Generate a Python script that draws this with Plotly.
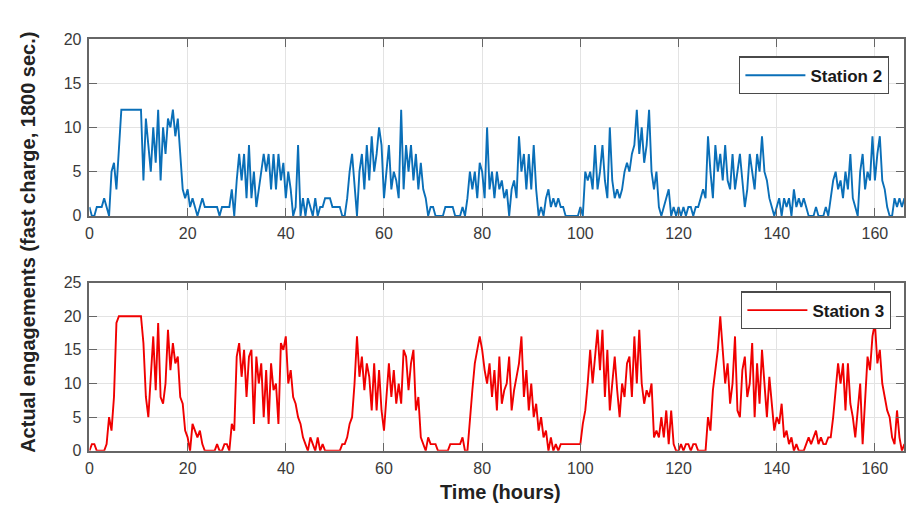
import plotly.graph_objects as go

# ---- data (0.5 h = 1800 s sampling) ----
time_step_hours = 0.5
x_ticks = [0, 20, 40, 60, 80, 100, 120, 140, 160]
y_ticks_station2 = [0, 5, 10, 15, 20]
y_ticks_station3 = [0, 5, 10, 15, 20, 25]

station2_engagements = [
    1, 0, 0, 1, 1, 1, 2, 1, 0, 5, 6, 3, 7, 12, 12, 12, 12, 12, 12, 12,
    12, 12, 4, 11, 8, 5, 10, 6, 12, 4, 10, 7, 11, 10, 12, 9, 11, 7, 3, 2,
    3, 1, 2, 1, 0, 1, 2, 1, 1, 1, 1, 1, 1, 0, 1, 1, 1, 1, 3, 0,
    4, 7, 4, 7, 2, 8, 2, 5, 1, 3, 5, 7, 5, 7, 3, 7, 3, 7, 4, 6,
    2, 5, 3, 0, 1, 8, 0, 2, 0, 2, 1, 0, 2, 0, 1, 1, 2, 2, 2, 1,
    1, 1, 1, 0, 0, 2, 5, 7, 3, 0, 5, 7, 3, 8, 4, 9, 5, 7, 10, 8,
    2, 5, 8, 3, 5, 4, 2, 12, 3, 8, 5, 8, 4, 7, 3, 6, 3, 2, 0, 1,
    1, 0, 0, 0, 0, 1, 1, 1, 1, 0, 0, 0, 1, 0, 2, 5, 3, 5, 2, 6,
    5, 2, 10, 3, 5, 2, 5, 3, 4, 2, 3, 0, 3, 4, 2, 9, 5, 7, 3, 7,
    3, 8, 3, 0, 1, 0, 2, 3, 1, 2, 1, 2, 1, 1, 0, 0, 0, 0, 0, 0,
    1, 0, 5, 4, 5, 3, 8, 3, 5, 8, 4, 2, 10, 4, 2, 3, 2, 3, 5, 6,
    5, 7, 8, 12, 7, 10, 6, 8, 12, 5, 3, 5, 1, 0, 1, 2, 3, 0, 1, 0,
    1, 0, 1, 0, 1, 1, 0, 1, 1, 2, 3, 2, 9, 5, 2, 8, 5, 7, 4, 8,
    4, 3, 7, 3, 5, 7, 4, 1, 3, 7, 5, 3, 7, 5, 9, 5, 4, 2, 1, 0,
    1, 2, 0, 2, 1, 2, 0, 3, 1, 2, 1, 2, 1, 0, 0, 0, 1, 0, 0, 0,
    1, 0, 2, 4, 5, 3, 4, 2, 5, 3, 7, 2, 1, 0, 5, 7, 3, 5, 4, 9,
    4, 7, 9, 4, 3, 1, 0, 0, 2, 1, 2, 1, 2, 1,
]

station3_engagements = [
    0, 1, 1, 0, 0, 0, 0, 1, 5, 3, 8, 19, 20, 20, 20, 20, 20, 20, 20, 20,
    20, 20, 16, 8, 5, 12, 17, 9, 19, 8, 7, 10, 18, 12, 16, 13, 14, 8, 7, 3,
    2, 0, 4, 3, 2, 3, 1, 0, 0, 0, 0, 0, 1, 0, 0, 1, 1, 0, 4, 3,
    14, 16, 11, 15, 8, 14, 15, 4, 14, 10, 13, 5, 12, 4, 13, 9, 10, 4, 16, 15,
    17, 10, 12, 8, 7, 5, 4, 2, 1, 0, 2, 1, 0, 2, 0, 1, 0, 0, 0, 0,
    0, 0, 0, 1, 1, 2, 4, 5, 10, 17, 11, 14, 9, 13, 11, 6, 13, 6, 12, 6,
    3, 8, 13, 8, 12, 7, 10, 7, 15, 14, 9, 13, 15, 6, 8, 2, 1, 0, 2, 1,
    1, 1, 0, 0, 0, 0, 0, 1, 1, 1, 1, 1, 2, 0, 0, 5, 9, 13, 15, 17,
    15, 12, 10, 13, 8, 12, 6, 14, 7, 9, 10, 14, 6, 9, 11, 13, 17, 8, 12, 6,
    10, 5, 7, 3, 5, 2, 3, 0, 2, 0, 1, 0, 1, 1, 1, 1, 1, 1, 1, 1,
    1, 4, 6, 10, 15, 10, 14, 18, 12, 18, 8, 15, 6, 10, 14, 9, 5, 10, 8, 13,
    14, 8, 17, 10, 18, 10, 7, 9, 8, 10, 2, 3, 2, 5, 2, 6, 1, 6, 1, 0,
    0, 1, 0, 1, 1, 0, 1, 1, 0, 0, 0, 0, 5, 3, 9, 12, 15, 20, 15, 10,
    13, 7, 10, 17, 6, 5, 12, 14, 8, 10, 16, 5, 13, 7, 15, 10, 5, 11, 7, 3,
    5, 4, 7, 2, 3, 1, 2, 0, 1, 0, 0, 0, 1, 2, 1, 2, 3, 1, 2, 1,
    1, 2, 2, 5, 9, 13, 10, 13, 6, 13, 7, 5, 2, 6, 10, 1, 7, 14, 12, 17,
    19, 13, 15, 10, 8, 6, 5, 2, 1, 6, 2, 0, 1, 0,
]

time_hours = [i * time_step_hours for i in range(len(station2_engagements))]

W, H = 906, 513
FONT = "Liberation Sans, Arial, Helvetica, sans-serif"
AXIS_COLOR = "#666666"
GRID_COLOR = "#e3e3e3"
TICK_FONT = dict(family=FONT, size=16, color="#3a3a3a")

fig = go.Figure()
fig.add_trace(go.Scatter(
    x=time_hours, y=station2_engagements, mode="lines", name="Station 2",
    line=dict(color="#0a6fb8", width=1.9), xaxis="x", yaxis="y", legend="legend",
))
fig.add_trace(go.Scatter(
    x=time_hours, y=station3_engagements, mode="lines", name="Station 3",
    line=dict(color="#f00000", width=1.9), xaxis="x2", yaxis="y2", legend="legend2",
))

x_left = 86 / W
x_range = [0, (W - 86) / 4.942]

common_x = dict(
    range=x_range, tickvals=x_ticks, ticks="inside", ticklen=8, tickcolor=AXIS_COLOR,
    showline=True, linecolor=AXIS_COLOR, linewidth=1.6, mirror="ticks",
    showgrid=True, gridcolor=GRID_COLOR, gridwidth=1, zeroline=False,
    tickfont=TICK_FONT, ticklabelstandoff=2, domain=[x_left, 1.0],
)
common_y = dict(
    ticks="inside", ticklen=8, tickcolor=AXIS_COLOR,
    showline=True, linecolor=AXIS_COLOR, linewidth=1.6, mirror="ticks",
    showgrid=True, gridcolor=GRID_COLOR, gridwidth=1, zeroline=False,
    tickfont=TICK_FONT, ticklabelstandoff=3,
)

legend_common = dict(
    xanchor="left", yanchor="top", bgcolor="white",
    bordercolor="#4a4a4a", borderwidth=1.3,
    font=dict(family=FONT, size=17, color="#1a1a1a", weight="bold"),
    itemwidth=60, tracegroupgap=0,
)

fig.update_layout(
    width=W, height=H, autosize=False,
    margin=dict(l=0, r=0, t=0, b=0),
    paper_bgcolor="white", plot_bgcolor="white",
    xaxis=dict(common_x, anchor="y"),
    yaxis=dict(common_y, range=[0, 20], tickvals=y_ticks_station2,
               domain=[1 - 215 / H, 1 - 32 / H], anchor="x"),
    xaxis2=dict(common_x, anchor="y2"),
    yaxis2=dict(common_y, range=[0, 25], tickvals=y_ticks_station3,
                domain=[1 - 458 / H, 1 - 284 / H], anchor="x2"),
    legend=dict(legend_common, x=740 / W, y=1 - 50 / H),
    legend2=dict(legend_common, x=742 / W, y=1 - 293 / H),
    showlegend=True,
    annotations=[
        dict(text="Actual engagements (fast charge, 1800 sec.)", textangle=-90,
             x=24 / W, y=1 - 242 / H, xref="paper", yref="paper",
             xanchor="center", yanchor="middle", showarrow=False,
             font=dict(family=FONT, size=20, color="#222222", weight="bold")),
        dict(text="Time (hours)", x=500 / W, y=1 - 501 / H,
             xref="paper", yref="paper", xanchor="center", yanchor="middle",
             showarrow=False,
             font=dict(family=FONT, size=20, color="#222222", weight="bold")),
    ],
)

fig.write_html("out.html")
